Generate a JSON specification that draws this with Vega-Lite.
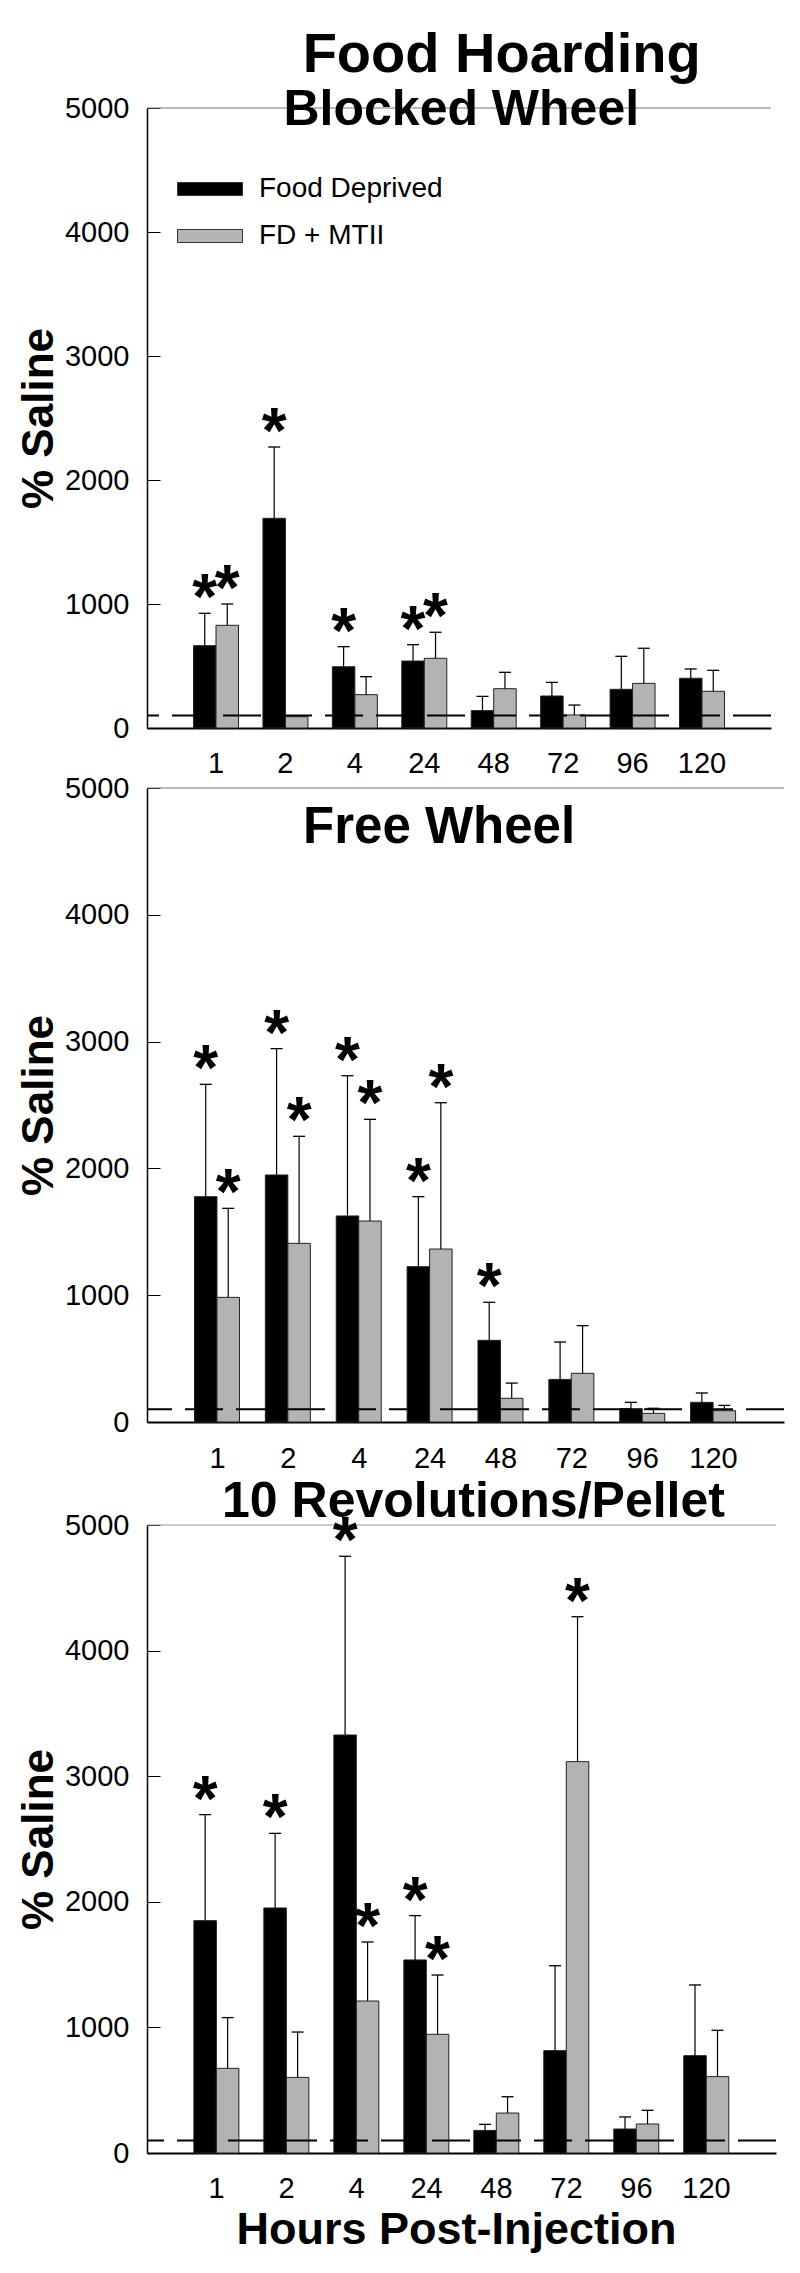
{
  "$schema": "https://vega.github.io/schema/vega-lite/v6.json",
  "padding": {"left": 17, "top": 27, "right": 5, "bottom": 5},
  "background": "white",
  "datasets": {
    "all": [
      {"panel": "BW", "hour": "1", "group": "Food Deprived", "value": 664, "err": 925, "star": true},
      {"panel": "BW", "hour": "1", "group": "FD + MTII", "value": 828, "err": 1000, "star": true},
      {"panel": "BW", "hour": "2", "group": "Food Deprived", "value": 1691, "err": 2266, "star": true},
      {"panel": "BW", "hour": "2", "group": "FD + MTII", "value": 91, "err": null, "star": false},
      {"panel": "BW", "hour": "4", "group": "Food Deprived", "value": 494, "err": 656, "star": true},
      {"panel": "BW", "hour": "4", "group": "FD + MTII", "value": 269, "err": 414, "star": false},
      {"panel": "BW", "hour": "24", "group": "Food Deprived", "value": 540, "err": 672, "star": true},
      {"panel": "BW", "hour": "24", "group": "FD + MTII", "value": 562, "err": 772, "star": true},
      {"panel": "BW", "hour": "48", "group": "Food Deprived", "value": 140, "err": 255, "star": false},
      {"panel": "BW", "hour": "48", "group": "FD + MTII", "value": 317, "err": 449, "star": false},
      {"panel": "BW", "hour": "72", "group": "Food Deprived", "value": 258, "err": 368, "star": false},
      {"panel": "BW", "hour": "72", "group": "FD + MTII", "value": 105, "err": 185, "star": false},
      {"panel": "BW", "hour": "96", "group": "Food Deprived", "value": 312, "err": 578, "star": false},
      {"panel": "BW", "hour": "96", "group": "FD + MTII", "value": 360, "err": 643, "star": false},
      {"panel": "BW", "hour": "120", "group": "Food Deprived", "value": 401, "err": 476, "star": false},
      {"panel": "BW", "hour": "120", "group": "FD + MTII", "value": 296, "err": 465, "star": false},
      {"panel": "FW", "hour": "1", "group": "Food Deprived", "value": 1777, "err": 2663, "star": true},
      {"panel": "FW", "hour": "1", "group": "FD + MTII", "value": 983, "err": 1685, "star": true},
      {"panel": "FW", "hour": "2", "group": "Food Deprived", "value": 1948, "err": 2944, "star": true},
      {"panel": "FW", "hour": "2", "group": "FD + MTII", "value": 1409, "err": 2253, "star": true},
      {"panel": "FW", "hour": "4", "group": "Food Deprived", "value": 1625, "err": 2731, "star": true},
      {"panel": "FW", "hour": "4", "group": "FD + MTII", "value": 1585, "err": 2387, "star": true},
      {"panel": "FW", "hour": "24", "group": "Food Deprived", "value": 1225, "err": 1777, "star": true},
      {"panel": "FW", "hour": "24", "group": "FD + MTII", "value": 1364, "err": 2518, "star": true},
      {"panel": "FW", "hour": "48", "group": "Food Deprived", "value": 644, "err": 944, "star": true},
      {"panel": "FW", "hour": "48", "group": "FD + MTII", "value": 187, "err": 307, "star": false},
      {"panel": "FW", "hour": "72", "group": "Food Deprived", "value": 336, "err": 631, "star": false},
      {"panel": "FW", "hour": "72", "group": "FD + MTII", "value": 384, "err": 760, "star": false},
      {"panel": "FW", "hour": "96", "group": "Food Deprived", "value": 105, "err": 155, "star": false},
      {"panel": "FW", "hour": "96", "group": "FD + MTII", "value": 68, "err": 108, "star": false},
      {"panel": "FW", "hour": "120", "group": "Food Deprived", "value": 155, "err": 229, "star": false},
      {"panel": "FW", "hour": "120", "group": "FD + MTII", "value": 89, "err": 131, "star": false},
      {"panel": "RP", "hour": "1", "group": "Food Deprived", "value": 1850, "err": 2694, "star": true},
      {"panel": "RP", "hour": "1", "group": "FD + MTII", "value": 674, "err": 1078, "star": false},
      {"panel": "RP", "hour": "2", "group": "Food Deprived", "value": 1951, "err": 2545, "star": true},
      {"panel": "RP", "hour": "2", "group": "FD + MTII", "value": 602, "err": 963, "star": false},
      {"panel": "RP", "hour": "4", "group": "Food Deprived", "value": 3328, "err": 4751, "star": true},
      {"panel": "RP", "hour": "4", "group": "FD + MTII", "value": 1210, "err": 1680, "star": true},
      {"panel": "RP", "hour": "24", "group": "Food Deprived", "value": 1537, "err": 1890, "star": true},
      {"panel": "RP", "hour": "24", "group": "FD + MTII", "value": 945, "err": 1417, "star": true},
      {"panel": "RP", "hour": "48", "group": "Food Deprived", "value": 180, "err": 228, "star": false},
      {"panel": "RP", "hour": "48", "group": "FD + MTII", "value": 318, "err": 448, "star": false},
      {"panel": "RP", "hour": "72", "group": "Food Deprived", "value": 815, "err": 1491, "star": false},
      {"panel": "RP", "hour": "72", "group": "FD + MTII", "value": 3116, "err": 4270, "star": true},
      {"panel": "RP", "hour": "96", "group": "Food Deprived", "value": 191, "err": 287, "star": false},
      {"panel": "RP", "hour": "96", "group": "FD + MTII", "value": 231, "err": 340, "star": false},
      {"panel": "RP", "hour": "120", "group": "Food Deprived", "value": 775, "err": 1338, "star": false},
      {"panel": "RP", "hour": "120", "group": "FD + MTII", "value": 608, "err": 977, "star": false}
    ]
  },
  "config": {
    "view": {"stroke": null},
    "font": "Liberation Sans",
    "axis": {"grid": false, "labelFont": "Liberation Sans", "titleFont": "Liberation Sans", "labelColor": "black", "titleColor": "black", "domainColor": "black", "tickColor": "black"}
  },
  "bounds": "flush",
  "spacing": 60,
  "resolve": {"scale": {"color": "independent"}, "legend": {"color": "independent"}},
  "vconcat": [
    {
      "width": 624, "height": 620,
      "data": {"name": "all"},
      "transform": [{"filter": "datum.panel == 'BW'"}],
      "layer": [
        {
          "mark": {"type": "bar", "stroke": "#222222", "strokeWidth": 1},
          "encoding": {
            "x": {"field": "hour", "type": "nominal", "scale": {"domain": ["1", "2", "4", "24", "48", "72", "96", "120"], "paddingInner": 0.352, "paddingOuter": 0.67},
                  "axis": {"labelAngle": 0, "ticks": false, "labelPadding": 44, "labelBaseline": "alphabetic", "labelFontSize": 29, "domainWidth": 2, "title": null}},
            "xOffset": {"field": "group", "type": "nominal", "scale": {"domain": ["Food Deprived", "FD + MTII"], "paddingInner": 0, "paddingOuter": 0}},
            "y": {"field": "value", "type": "quantitative", "scale": {"domain": [0, 5000], "nice": false},
                  "axis": {"values": [0, 1000, 2000, 3000, 4000, 5000], "format": "d", "tickSize": -13, "labelPadding": 31, "labelFontSize": 29, "labelBaseline": "middle", "domainWidth": 1.5, "tickWidth": 1,
                           "title": "% Saline", "titleFontSize": 44, "titleFontWeight": "bold", "titleAngle": 270, "titleBaseline": "alphabetic", "titleX": -95, "titleY": 310}},
            "color": {"field": "group", "type": "nominal", "scale": {"domain": ["Food Deprived", "FD + MTII"], "range": ["#000000", "#b3b3b3"]},
                      "legend": {"orient": "none", "legendX": 30, "legendY": 48, "title": null, "symbolType": "M-1,-0.2H1V0.2H-1Z", "symbolSize": 4225, "labelFontSize": 28, "labelOffset": 16, "labelLimit": 400, "rowPadding": -21, "symbolStrokeColor": "#333333", "symbolStrokeWidth": 1, "labelColor": "black", "labelFont": "Liberation Sans"}}
          }
        },
        {"data": {"values": [{}]}, "mark": {"type": "rule", "color": "black", "strokeWidth": 2, "strokeDash": [38, 13]}, "encoding": {"y": {"datum": 100, "type": "quantitative"}}},
        {"data": {"values": [{}]}, "mark": {"type": "rule", "color": "#777777", "strokeWidth": 1}, "encoding": {"y": {"datum": 5000, "type": "quantitative"}}},
        {"transform": [{"filter": "datum.err != null"}], "mark": {"type": "rule", "color": "black", "strokeWidth": 1.2},
         "encoding": {"x": {"field": "hour", "type": "nominal"}, "xOffset": {"field": "group", "type": "nominal"}, "y": {"field": "value", "type": "quantitative"}, "y2": {"field": "err"}}},
        {"transform": [{"filter": "datum.err != null"}], "mark": {"type": "tick", "color": "black", "size": 12, "thickness": 1.3, "opacity": 1},
         "encoding": {"x": {"field": "hour", "type": "nominal"}, "xOffset": {"field": "group", "type": "nominal"}, "y": {"field": "err", "type": "quantitative"}}},
        {"transform": [{"filter": "datum.star"}], "mark": {"type": "text", "text": "*", "fontSize": 64, "fontWeight": "bold", "color": "black", "baseline": "alphabetic", "dy": 6},
         "encoding": {"x": {"field": "hour", "type": "nominal"}, "xOffset": {"field": "group", "type": "nominal"}, "y": {"field": "err", "type": "quantitative"}}},
        {"data": {"values": [{"label": "Food Hoarding"}]}, "mark": {"type": "text", "fontSize": 56, "fontWeight": "bold", "color": "black", "baseline": "alphabetic", "align": "center", "dx": 8, "dy": -36},
         "encoding": {"text": {"field": "label"}, "x": {"datum": "48", "type": "nominal"}, "y": {"datum": 5000, "type": "quantitative"}}},
        {"data": {"values": [{"label": "Blocked Wheel"}]}, "mark": {"type": "text", "fontSize": 50, "fontWeight": "bold", "color": "black", "baseline": "alphabetic", "align": "center", "dx": 37, "dy": 17},
         "encoding": {"text": {"field": "label"}, "x": {"datum": "24", "type": "nominal"}, "y": {"datum": 5000, "type": "quantitative"}}}
      ]
    },
    {
      "width": 637, "height": 634,
      "data": {"name": "all"},
      "transform": [{"filter": "datum.panel == 'FW'"}],
      "layer": [
        {
          "mark": {"type": "bar", "stroke": "#222222", "strokeWidth": 1},
          "encoding": {
            "x": {"field": "hour", "type": "nominal", "scale": {"domain": ["1", "2", "4", "24", "48", "72", "96", "120"], "paddingInner": 0.352, "paddingOuter": 0.67},
                  "axis": {"labelAngle": 0, "ticks": false, "labelPadding": 45, "labelBaseline": "alphabetic", "labelFontSize": 29, "domainWidth": 2, "title": null}},
            "xOffset": {"field": "group", "type": "nominal", "scale": {"domain": ["Food Deprived", "FD + MTII"], "paddingInner": 0, "paddingOuter": 0}},
            "y": {"field": "value", "type": "quantitative", "scale": {"domain": [0, 5000], "nice": false},
                  "axis": {"values": [0, 1000, 2000, 3000, 4000, 5000], "format": "d", "tickSize": -13, "labelPadding": 31, "labelFontSize": 29, "labelBaseline": "middle", "domainWidth": 1.5, "tickWidth": 1,
                           "title": "% Saline", "titleFontSize": 44, "titleFontWeight": "bold", "titleAngle": 270, "titleBaseline": "alphabetic", "titleX": -95, "titleY": 317}},
            "color": {"field": "group", "type": "nominal", "scale": {"domain": ["Food Deprived", "FD + MTII"], "range": ["#000000", "#b3b3b3"]}, "legend": null}
          }
        },
        {"data": {"values": [{}]}, "mark": {"type": "rule", "color": "black", "strokeWidth": 2, "strokeDash": [38, 13]}, "encoding": {"y": {"datum": 100, "type": "quantitative"}}},
        {"data": {"values": [{}]}, "mark": {"type": "rule", "color": "#777777", "strokeWidth": 1}, "encoding": {"y": {"datum": 5000, "type": "quantitative"}}},
        {"transform": [{"filter": "datum.err != null"}], "mark": {"type": "rule", "color": "black", "strokeWidth": 1.2},
         "encoding": {"x": {"field": "hour", "type": "nominal"}, "xOffset": {"field": "group", "type": "nominal"}, "y": {"field": "value", "type": "quantitative"}, "y2": {"field": "err"}}},
        {"transform": [{"filter": "datum.err != null"}], "mark": {"type": "tick", "color": "black", "size": 12, "thickness": 1.3, "opacity": 1},
         "encoding": {"x": {"field": "hour", "type": "nominal"}, "xOffset": {"field": "group", "type": "nominal"}, "y": {"field": "err", "type": "quantitative"}}},
        {"transform": [{"filter": "datum.star"}], "mark": {"type": "text", "text": "*", "fontSize": 64, "fontWeight": "bold", "color": "black", "baseline": "alphabetic", "dy": 6},
         "encoding": {"x": {"field": "hour", "type": "nominal"}, "xOffset": {"field": "group", "type": "nominal"}, "y": {"field": "err", "type": "quantitative"}}},
        {"data": {"values": [{"label": "Free Wheel"}]}, "mark": {"type": "text", "fontSize": 51, "fontWeight": "bold", "color": "black", "baseline": "alphabetic", "align": "center", "dx": 9, "dy": 55},
         "encoding": {"text": {"field": "label"}, "x": {"datum": "24", "type": "nominal"}, "y": {"datum": 5000, "type": "quantitative"}}}
      ]
    },
    {
      "width": 629, "height": 671,
      "data": {"name": "all"},
      "transform": [{"filter": "datum.panel == 'RP'"}],
      "layer": [
        {
          "mark": {"type": "bar", "stroke": "#222222", "strokeWidth": 1},
          "encoding": {
            "x": {"field": "hour", "type": "nominal", "scale": {"domain": ["1", "2", "4", "24", "48", "72", "96", "120"], "paddingInner": 0.352, "paddingOuter": 0.67},
                  "axis": {"labelAngle": 0, "ticks": false, "labelPadding": 44, "labelBaseline": "alphabetic", "labelFontSize": 29, "domainWidth": 2,
                           "title": "Hours Post-Injection", "titleFontSize": 45, "titleFontWeight": "bold", "titleBaseline": "alphabetic", "titleX": 309, "titleY": 90}},
            "xOffset": {"field": "group", "type": "nominal", "scale": {"domain": ["Food Deprived", "FD + MTII"], "paddingInner": 0, "paddingOuter": 0}},
            "y": {"field": "value", "type": "quantitative", "scale": {"domain": [0, 5000], "nice": false, "range": [671, 43]},
                  "axis": {"values": [0, 1000, 2000, 3000, 4000, 5000], "format": "d", "tickSize": -13, "labelPadding": 31, "labelFontSize": 29, "labelBaseline": "middle", "domainWidth": 1.5, "tickWidth": 1,
                           "title": "% Saline", "titleFontSize": 44, "titleFontWeight": "bold", "titleAngle": 270, "titleBaseline": "alphabetic", "titleX": -95, "titleY": 357}},
            "color": {"field": "group", "type": "nominal", "scale": {"domain": ["Food Deprived", "FD + MTII"], "range": ["#000000", "#b3b3b3"]}, "legend": null}
          }
        },
        {"data": {"values": [{}]}, "mark": {"type": "rule", "color": "black", "strokeWidth": 2, "strokeDash": [38, 13]}, "encoding": {"y": {"datum": 100, "type": "quantitative"}}},
        {"data": {"values": [{}]}, "mark": {"type": "rule", "color": "#999999", "strokeWidth": 1}, "encoding": {"y": {"datum": 5000, "type": "quantitative"}}},
        {"transform": [{"filter": "datum.err != null"}], "mark": {"type": "rule", "color": "black", "strokeWidth": 1.2},
         "encoding": {"x": {"field": "hour", "type": "nominal"}, "xOffset": {"field": "group", "type": "nominal"}, "y": {"field": "value", "type": "quantitative"}, "y2": {"field": "err"}}},
        {"transform": [{"filter": "datum.err != null"}], "mark": {"type": "tick", "color": "black", "size": 12, "thickness": 1.3, "opacity": 1},
         "encoding": {"x": {"field": "hour", "type": "nominal"}, "xOffset": {"field": "group", "type": "nominal"}, "y": {"field": "err", "type": "quantitative"}}},
        {"transform": [{"filter": "datum.star"}], "mark": {"type": "text", "text": "*", "fontSize": 64, "fontWeight": "bold", "color": "black", "baseline": "alphabetic", "dy": 6},
         "encoding": {"x": {"field": "hour", "type": "nominal"}, "xOffset": {"field": "group", "type": "nominal"}, "y": {"field": "err", "type": "quantitative"}}},
        {"data": {"values": [{"label": "10 Revolutions/Pellet"}]}, "mark": {"type": "text", "fontSize": 50, "fontWeight": "bold", "color": "black", "baseline": "alphabetic", "align": "center", "dx": 47, "dy": -8},
         "encoding": {"text": {"field": "label"}, "x": {"datum": "24", "type": "nominal"}, "y": {"datum": 5000, "type": "quantitative"}}}
      ]
    }
  ]
}
